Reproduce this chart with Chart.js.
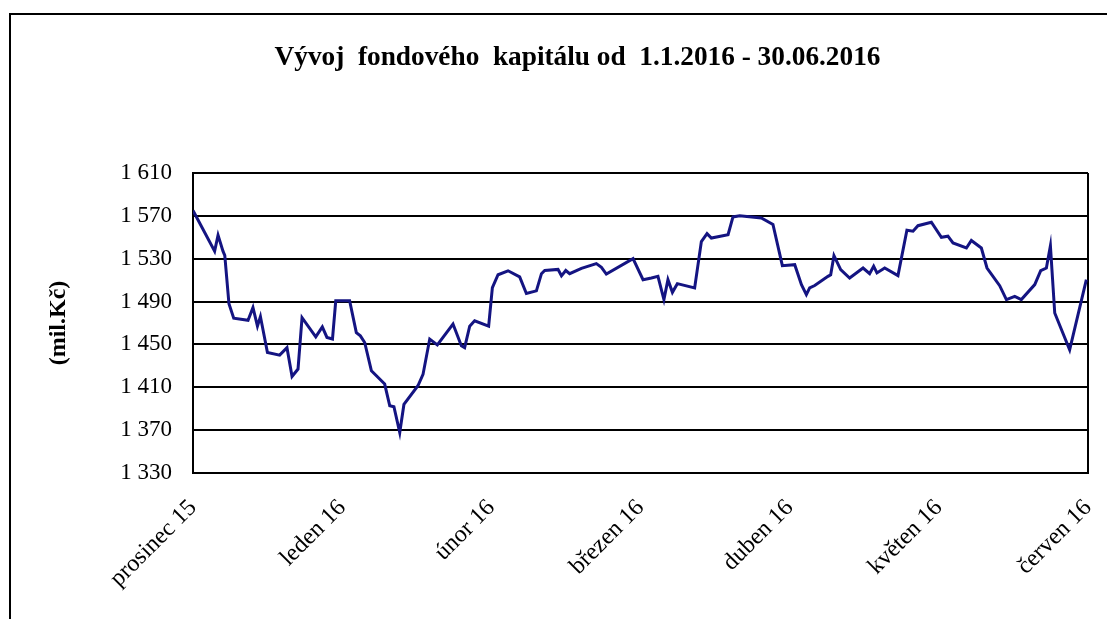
<!DOCTYPE html>
<html>
<head>
<meta charset="utf-8">
<script src="https://cdn.jsdelivr.net/npm/chart.js@4.4.1/dist/chart.umd.min.js"></script>
<style>
  html, body { margin: 0; padding: 0; background: #fff; overflow: hidden; }
  #wrap { position: relative; width: 1107px; height: 619px; }
  #frame { position: absolute; left: 9px; top: 13px; width: 1200px; height: 700px;
           border-left: 2px solid #000; border-top: 2px solid #000; box-sizing: border-box; }
  canvas { position: absolute; left: 0; top: 0; }
</style>
</head>
<body>
<div id="wrap">
  <div id="frame"></div>
  <canvas id="c" width="1107" height="619"></canvas>
</div>
<script>
// Month tick labels (x axis, one per month boundary)
const monthLabels = ['prosinec 15', 'leden 16', 'únor 16', 'březen 16', 'duben 16', 'květen 16', 'červen 16'];

// Position of each observation along the time axis, in months from "prosinec 15"
const dayPos = [0.000,0.145,0.168,0.201,0.213,0.241,0.273,0.369,0.402,0.432,
  0.452,0.499,0.581,0.630,0.664,0.704,0.731,0.823,0.867,0.898,
  0.935,0.957,1.050,1.095,1.122,1.151,1.196,1.285,1.319,1.347,
  1.386,1.414,1.508,1.542,1.587,1.638,1.743,1.799,1.821,1.855,
  1.888,1.982,2.007,2.045,2.112,2.190,2.235,2.302,2.336,2.358,
  2.447,2.470,2.499,2.525,2.604,2.704,2.738,2.771,2.950,3.017,
  3.073,3.117,3.157,3.184,3.214,3.247,3.363,3.408,3.446,3.475,
  3.587,3.620,3.665,3.810,3.888,3.951,4.034,4.079,4.112,4.134,
  4.168,4.257,4.275,4.297,4.342,4.402,4.492,4.536,4.563,4.585,
  4.637,4.726,4.786,4.827,4.860,4.950,5.017,5.061,5.095,5.185,
  5.218,5.285,5.323,5.408,5.453,5.509,5.553,5.643,5.683,5.721,
  5.748,5.777,5.877,5.989];

// Fund capital (mil. Kč)
const fundCapital = [1575,1537,1552,1537,1533,1488,1474.5,1472.5,1484.5,1467,
  1476,1442.5,1440,1447,1420,1427,1475,1457,1466.4,1456.5,
  1455,1490.7,1490.7,1461,1458,1451.8,1425.4,1413,1392.7,1391.8,
  1367.8,1394,1411.4,1422,1455,1449.6,1469,1448.7,1447,1467,
  1472,1467,1503,1515,1518.7,1513,1497.5,1500,1516,1519,
  1520,1514,1519,1516,1521,1525.4,1522,1515.7,1530,1510.4,
  1512,1513.5,1491.8,1510.4,1498.6,1506.7,1502.7,1546,1553.4,1549.3,
  1552.4,1569,1570,1568,1562,1523.5,1524.4,1505.8,1496.4,1502.7,
  1505,1513.5,1515,1532.8,1519.8,1512,1521.3,1516,1523,1516.7,
  1521.3,1514.2,1556.5,1555.6,1560.8,1564,1550,1551,1544.7,1540,
  1547,1540,1521.3,1504.8,1491.8,1494.9,1491.8,1505.8,1518.8,1521.3,
  1542,1479.3,1445,1510.4];

// Y axis range and step
const yMin = 1330, yMax = 1610, yStep = 40;

const titleText = 'Vývoj  fondového  kapitálu od  1.1.2016 - 30.06.2016';
const yTitleText = '(mil.Kč)';

const points = dayPos.map((x, i) => ({ x: x, y: fundCapital[i] }));
const serif = '"Liberation Serif", "Times New Roman", serif';
const fmt = v => String(v).replace(/\B(?=(\d{3})+(?!\d))/g, ' ');

new Chart(document.getElementById('c'), {
  type: 'line',
  data: {
    datasets: [{
      data: points,
      borderColor: '#141482',
      borderWidth: 3,
      pointRadius: 0,
      tension: 0,
      fill: false
    }]
  },
  options: {
    responsive: false,
    animation: false,
    events: [],
    layout: { padding: { left: 67, right: 19, top: 0, bottom: 0 } },
    plugins: {
      legend: { display: false },
      tooltip: { enabled: false },
      title: {
        display: true,
        text: titleText,
        color: '#000',
        font: { family: serif, size: 27.3, weight: 'bold', lineHeight: 1.2 },
        padding: { top: 42, bottom: 98.2 }
      }
    },
    scales: {
      x: {
        type: 'linear',
        min: 0,
        max: monthLabels.length - 1,
        afterFit: s => { s.height = 146; s.paddingLeft = 0; s.paddingRight = 0; },
        ticks: {
          stepSize: 1,
          autoSkip: false,
          minRotation: 45,
          maxRotation: 45,
          padding: 21,
          color: '#000',
          font: { family: serif, size: 24 },
          callback: v => monthLabels[v]
        },
        grid: {
          drawTicks: false,
          color: c => (c.tick && c.tick.value === monthLabels.length - 1) ? '#000' : 'rgba(0,0,0,0)',
          lineWidth: 2
        },
        border: { display: true, color: '#000', width: 2 }
      },
      y: {
        min: yMin,
        max: yMax,
        afterFit: s => { s.width = 126; s.paddingTop = 0; s.paddingBottom = 0; },
        ticks: {
          stepSize: yStep,
          padding: 21,
          color: '#000',
          font: { family: serif, size: 23 },
          callback: v => fmt(v)
        },
        grid: { drawTicks: false, color: '#000', lineWidth: 2 },
        border: { display: true, color: '#000', width: 2 },
        title: {
          display: true,
          text: yTitleText,
          color: '#000',
          font: { family: serif, size: 24, weight: 'bold', lineHeight: 1.2 },
          padding: { top: -22.4, bottom: 0 }
        }
      }
    }
  }
});
</script>
</body>
</html>
